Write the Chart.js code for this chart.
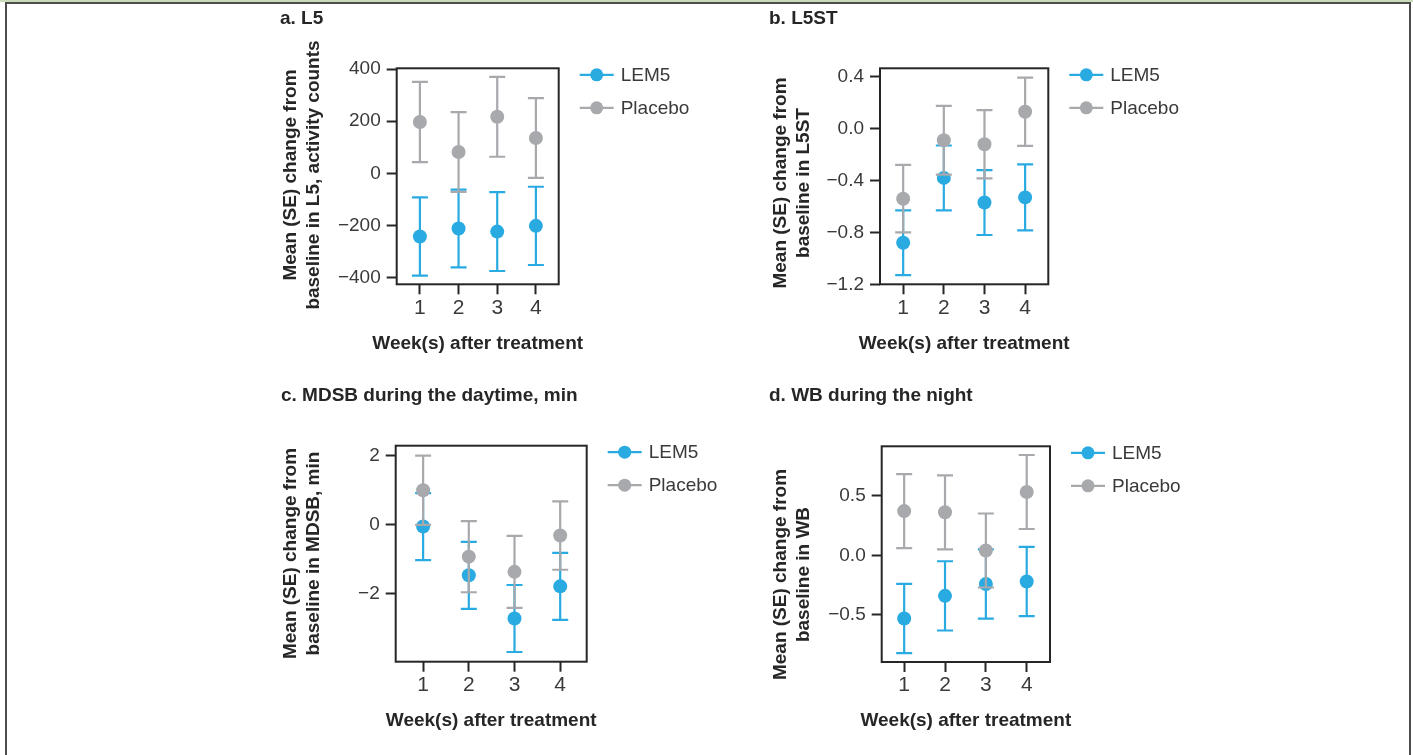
<!DOCTYPE html>
<html>
<head>
<meta charset="utf-8">
<script src="https://cdn.jsdelivr.net/npm/chart.js@4/dist/chart.umd.min.js"></script>
<style>
  html, body { margin: 0; padding: 0; background: #fff; }
  body { width: 1413px; height: 755px; position: relative; overflow: hidden; }
  #topline { position: absolute; left: 0; top: 0; width: 1413px; height: 2px; background: #c9dbbb; }
  #frame { position: absolute; left: 5px; top: 2px; width: 1402px; height: 780px; border: 2px solid #4d4d4d; }
  canvas { position: absolute; }
</style>
</head>
<body>
<div id="topline"></div>
<div id="frame"></div>
<canvas id="pa"></canvas>
<canvas id="pb"></canvas>
<canvas id="pc"></canvas>
<canvas id="pd"></canvas>
<script>
const weeks = [1, 2, 3, 4];
const seriesNames = ['LEM5', 'Placebo'];

// a. L5 (activity counts)
const l5Lem5 = [-242, -211, -223, -201];
const l5Lem5Se = [150, 149, 151, 150];
const l5Placebo = [197, 82, 217, 136];
const l5PlaceboSe = [154, 153, 153, 153];
const l5Ticks = [-400, -200, 0, 200, 400];

// b. L5ST
const l5stLem5 = [-0.88, -0.38, -0.57, -0.53];
const l5stLem5Se = [0.25, 0.25, 0.25, 0.255];
const l5stPlacebo = [-0.54, -0.09, -0.12, 0.13];
const l5stPlaceboSe = [0.26, 0.265, 0.263, 0.263];
const l5stTicks = [-1.2, -0.8, -0.4, 0, 0.4];

// c. MDSB during the daytime, min
const mdsbLem5 = [-0.05, -1.46, -2.71, -1.78];
const mdsbLem5Se = [0.97, 0.97, 0.97, 0.97];
const mdsbPlacebo = [1.0, -0.92, -1.36, -0.31];
const mdsbPlaceboSe = [1.0, 1.03, 1.04, 0.99];
const mdsbTicks = [-2, 0, 2];

// d. WB during the night
const wbLem5 = [-0.53, -0.34, -0.24, -0.22];
const wbLem5Se = [0.29, 0.29, 0.29, 0.29];
const wbPlacebo = [0.37, 0.36, 0.04, 0.53];
const wbPlaceboSe = [0.31, 0.31, 0.31, 0.31];
const wbTicks = [-0.5, 0, 0.5];

const FONT = "'Liberation Sans', Arial, Helvetica, sans-serif";
const BLUE = '#29abe2';
const GREY = '#a7a9ac';
const INK = '#262626';
const TXT = '#3a3a3a';
const xTitle = 'Week(s) after treatment';

const minus = s => s.replace('-', '\u2212');

const panels = [
  { el: 'pa', title: 'a. L5', yTitle: ['Mean (SE) change from', 'baseline in L5, activity counts'],
    lem5: l5Lem5, lem5Se: l5Lem5Se, placebo: l5Placebo, placeboSe: l5PlaceboSe, ticks: l5Ticks, dec: 0,
    yMin: -425, yMax: 403, xMin: 0.4, xMax: 4.59,
    box: { left: 280, top: 0, width: 480, height: 375 }, titleY: 18.3,
    area: { left: 396.7, top: 68.3, right: 558.7, bottom: 284.3 },
    yTitlePos: { x: 290.7, y: 175 }, xTitleY: 343.3 },
  { el: 'pb', title: 'b. L5ST', yTitle: ['Mean (SE) change from', 'baseline in L5ST'],
    lem5: l5stLem5, lem5Se: l5stLem5Se, placebo: l5stPlacebo, placeboSe: l5stPlaceboSe, ticks: l5stTicks, dec: 1,
    yMin: -1.2, yMax: 0.465, xMin: 0.43, xMax: 4.57,
    box: { left: 769, top: 0, width: 480, height: 375 }, titleY: 18.3,
    area: { left: 880, top: 68.3, right: 1048.3, bottom: 284.3 },
    yTitlePos: { x: 780.7, y: 183 }, xTitleY: 343.3 },
  { el: 'pc', title: 'c. MDSB during the daytime, min', yTitle: ['Mean (SE) change from', 'baseline in MDSB, min'],
    lem5: mdsbLem5, lem5Se: mdsbLem5Se, placebo: mdsbPlacebo, placeboSe: mdsbPlaceboSe, ticks: mdsbTicks, dec: 0,
    yMin: -3.96, yMax: 2.29, xMin: 0.4, xMax: 4.58,
    box: { left: 281, top: 380, width: 480, height: 375 }, titleY: 395.7,
    area: { left: 395.7, top: 445.7, right: 586.7, bottom: 661.7 },
    yTitlePos: { x: 290.7, y: 553.5 }, xTitleY: 720.7 },
  { el: 'pd', title: 'd. WB during the night', yTitle: ['Mean (SE) change from', 'baseline in WB'],
    lem5: wbLem5, lem5Se: wbLem5Se, placebo: wbPlacebo, placeboSe: wbPlaceboSe, ticks: wbTicks, dec: 1,
    yMin: -0.894, yMax: 0.913, xMin: 0.45, xMax: 4.57,
    box: { left: 769, top: 380, width: 480, height: 375 }, titleY: 395.7,
    area: { left: 881.7, top: 446.3, right: 1050, bottom: 662 },
    yTitlePos: { x: 780.7, y: 574.5 }, xTitleY: 720.7 }
];

// error bars, frame, legend and axis titles
const decor = {
  id: 'decor',
  beforeDatasetDraw(chart, args) {
    const ds = chart.data.datasets[args.index];
    const { ctx, scales: { x, y } } = chart;
    ctx.save();
    ctx.strokeStyle = ds.borderColor;
    ctx.lineWidth = 2.2;
    ds.data.forEach((p, i) => {
      const px = x.getPixelForValue(p.x);
      const lo = y.getPixelForValue(p.y - ds.se[i]);
      const hi = y.getPixelForValue(p.y + ds.se[i]);
      ctx.beginPath();
      ctx.moveTo(px, lo); ctx.lineTo(px, hi);
      ctx.moveTo(px - 8, lo); ctx.lineTo(px + 8, lo);
      ctx.moveTo(px - 8, hi); ctx.lineTo(px + 8, hi);
      ctx.stroke();
    });
    ctx.restore();
  },
  afterDraw(chart, args, opts) {
    const { ctx, chartArea: a } = chart;
    ctx.save();
    ctx.strokeStyle = INK;
    ctx.lineWidth = 2;
    ctx.strokeRect(a.left, a.top, a.right - a.left, a.bottom - a.top);

    // legend
    const lx = a.right + 21;
    chart.data.datasets.forEach((ds, i) => {
      const ly = a.top + 6.5 + i * 33;
      ctx.strokeStyle = ds.borderColor;
      ctx.fillStyle = ds.borderColor;
      ctx.lineWidth = 2.2;
      ctx.beginPath();
      ctx.moveTo(lx, ly); ctx.lineTo(lx + 34, ly);
      ctx.stroke();
      ctx.beginPath();
      ctx.arc(lx + 17, ly, 6.5, 0, Math.PI * 2);
      ctx.fill();
      ctx.fillStyle = TXT;
      ctx.font = '19px ' + FONT;
      ctx.textBaseline = 'middle';
      ctx.textAlign = 'left';
      ctx.fillText(ds.label, lx + 41, ly + 1);
    });

    // axis titles
    ctx.fillStyle = INK;
    ctx.font = 'bold 19px ' + FONT;
    ctx.textAlign = 'center';
    ctx.textBaseline = 'middle';
    ctx.fillText(xTitle, (a.left + a.right) / 2, opts.xTitleY);
    opts.lines.forEach((t, i) => {
      ctx.save();
      ctx.translate(opts.x + i * 23.3, opts.y);
      ctx.rotate(-Math.PI / 2);
      ctx.fillText(t, 0, 0);
      ctx.restore();
    });
    ctx.restore();
  }
};

panels.forEach(p => {
  const cv = document.getElementById(p.el);
  const b = p.box;
  cv.width = b.width; cv.height = b.height;
  cv.style.left = b.left + 'px'; cv.style.top = b.top + 'px';

  const titleLh = 19 * 1.2;
  const titlePadTop = p.titleY - b.top - titleLh / 2;
  const titlePadBottom = p.area.top - b.top - titleLh - titlePadTop;
  const xHeight = b.top + b.height - p.area.bottom;
  const yWidth = p.area.left - b.left;

  const gridStyle = {
    drawOnChartArea: false, drawTicks: true, tickLength: 10, tickWidth: 2, tickColor: INK
  };

  new Chart(cv, {
    type: 'line',
    data: {
      datasets: [
        { label: seriesNames[0], data: weeks.map((w, i) => ({ x: w, y: p.lem5[i] })), se: p.lem5Se,
          borderColor: BLUE, backgroundColor: BLUE, showLine: false, pointRadius: 7, pointBorderWidth: 0, order: 1 },
        { label: seriesNames[1], data: weeks.map((w, i) => ({ x: w, y: p.placebo[i] })), se: p.placeboSe,
          borderColor: GREY, backgroundColor: GREY, showLine: false, pointRadius: 7, pointBorderWidth: 0, order: 0 }
      ]
    },
    options: {
      responsive: false,
      animation: false,
      layout: { autoPadding: false, padding: { left: 0, top: 0, bottom: 0, right: b.left + b.width - p.area.right } },
      plugins: {
        legend: { display: false },
        tooltip: { enabled: false },
        title: {
          display: true, text: p.title, align: 'start', color: INK,
          font: { family: FONT, size: 19, weight: 'bold', lineHeight: 1.2 },
          padding: { top: titlePadTop, bottom: titlePadBottom }
        },
        decor: { lines: p.yTitle, x: p.yTitlePos.x - b.left, y: p.yTitlePos.y - b.top, xTitleY: p.xTitleY - b.top }
      },
      scales: {
        x: {
          type: 'linear', min: p.xMin, max: p.xMax,
          afterFit: s => { s.height = xHeight; },
          afterBuildTicks: s => { s.ticks = weeks.map(v => ({ value: v })); },
          ticks: { padding: 1, color: TXT, font: { family: FONT, size: 21 }, callback: v => String(v) },
          grid: gridStyle,
          border: { display: false }
        },
        y: {
          type: 'linear', min: p.yMin, max: p.yMax,
          afterFit: s => { s.width = yWidth; },
          afterBuildTicks: s => { s.ticks = p.ticks.map(v => ({ value: v })); },
          ticks: { padding: 6, color: TXT, font: { family: FONT, size: 19 }, callback: v => minus(v.toFixed(p.dec)) },
          grid: gridStyle,
          border: { display: false }
        }
      }
    },
    plugins: [decor]
  });
});
</script>
</body>
</html>
